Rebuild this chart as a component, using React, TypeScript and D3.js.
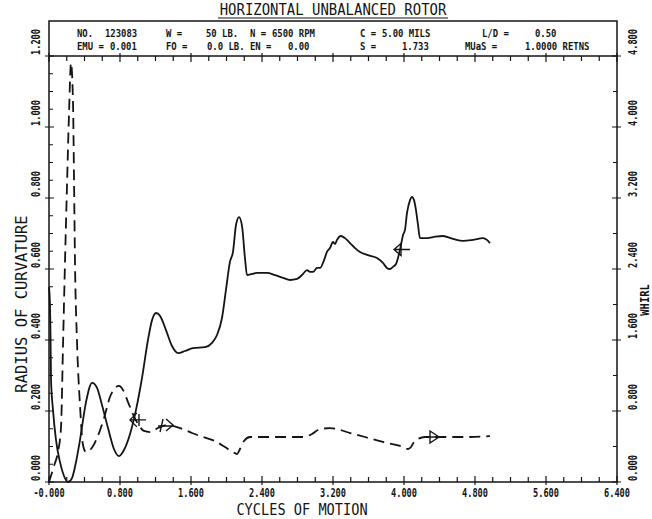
import React from "react";
import * as d3 from "d3";

const W = 652;
const H = 519;

// Radius of curvature (left axis) against cycles of motion
const curvCycles = [
  0.0, 0.011, 0.017, 0.023, 0.045, 0.079, 0.124, 0.169, 0.214, 0.259, 0.304, 0.349,
  0.417, 0.485, 0.541, 0.597, 0.665, 0.732, 0.789, 0.845, 0.913, 0.98, 1.048, 1.115,
  1.161, 1.206, 1.251, 1.318, 1.386, 1.454, 1.532, 1.623, 1.758, 1.837, 1.893, 1.949,
  1.994, 2.039, 2.073, 2.107, 2.141, 2.175, 2.208, 2.231, 2.287, 2.344, 2.456, 2.546,
  2.637, 2.716, 2.794, 2.862, 2.907, 2.941, 2.975, 3.02, 3.054, 3.099, 3.132, 3.166,
  3.2, 3.223, 3.245, 3.29, 3.335, 3.392, 3.448, 3.504, 3.594, 3.696, 3.763, 3.808,
  3.842, 3.876, 3.91, 3.932, 3.966, 3.989, 4.011, 4.034, 4.068, 4.09, 4.113, 4.135,
  4.158, 4.18, 4.248, 4.327, 4.439, 4.552, 4.665, 4.777, 4.89, 4.935, 4.969,
];
const curvRadius = [
  0.549, 0.499, 0.414, 0.287, 0.203, 0.118, 0.056, 0.017, 0.0, 0.011, 0.056, 0.118,
  0.225, 0.279, 0.265, 0.217, 0.152, 0.093, 0.073, 0.09, 0.135, 0.203, 0.293, 0.4,
  0.456, 0.476, 0.468, 0.428, 0.383, 0.363, 0.369, 0.377, 0.38, 0.392, 0.414, 0.462,
  0.541, 0.62, 0.648, 0.724, 0.746, 0.721, 0.631, 0.583, 0.586, 0.589, 0.589, 0.583,
  0.575, 0.569, 0.572, 0.586, 0.597, 0.592, 0.592, 0.603, 0.603, 0.625, 0.648, 0.659,
  0.676, 0.67, 0.682, 0.693, 0.687, 0.673, 0.659, 0.648, 0.639, 0.631, 0.617, 0.603,
  0.6, 0.606, 0.614, 0.631, 0.668, 0.696, 0.71, 0.758, 0.794, 0.803, 0.794, 0.766,
  0.724, 0.687, 0.687, 0.69, 0.693, 0.685, 0.679, 0.682, 0.687, 0.682, 0.673,
];

// Whirl (right axis) against cycles of motion
const whirlCycles = [
  0.0, 0.056, 0.101, 0.135, 0.158, 0.18, 0.203, 0.225, 0.248, 0.27, 0.282, 0.293,
  0.315, 0.349, 0.383, 0.417, 0.473, 0.541, 0.62, 0.687, 0.744, 0.789, 0.834, 0.89,
  0.946, 1.003, 1.07, 1.138, 1.228, 1.33, 1.476, 1.611, 1.735, 1.87, 1.983, 2.073,
  2.118, 2.152, 2.197, 2.265, 2.434, 2.637, 2.862, 2.963, 3.031, 3.166, 3.279, 3.392,
  3.561, 3.763, 3.955, 4.045, 4.079, 4.113, 4.158, 4.237, 4.327, 4.518, 4.744, 4.969,
];
const whirlValues = [
  0.0, 0.18, 0.338, 0.608, 1.544, 2.468, 3.346, 4.135, 4.721, 4.304, 3.403, 2.468,
  1.6, 0.868, 0.417, 0.338, 0.372, 0.496, 0.721, 0.958, 1.059, 1.082, 1.037, 0.901,
  0.766, 0.654, 0.575, 0.563, 0.608, 0.642, 0.608, 0.552, 0.507, 0.462, 0.394, 0.338,
  0.315, 0.372, 0.462, 0.507, 0.507, 0.507, 0.507, 0.541, 0.586, 0.608, 0.586, 0.552,
  0.507, 0.451, 0.406, 0.372, 0.394, 0.451, 0.485, 0.507, 0.507, 0.507, 0.507, 0.518,
];

// Direction arrows along each trace
const curvMarkerCycles = [0.98, 3.955];
const curvMarkerValues = [0.175, 0.655];
const whirlMarkerCycles = [1.33, 4.327];
const whirlMarkerValues = [0.642, 0.507];

const xTickLabels = ["-0.000", "0.800", "1.600", "2.400", "3.200", "4.000", "4.800", "5.600", "6.400"];
const leftTickLabels = ["0.000", "0.200", "0.400", "0.600", "0.800", "1.000", "1.200"];
const rightTickLabels = ["0.000", "0.800", "1.600", "2.400", "3.200", "4.000", "4.800"];

const title = "HORIZONTAL UNBALANCED ROTOR";
const headerRow1 = ["NO.", "123083", "W =", "50 LB.", "N =", "6500 RPM", "C =", "5.00 MILS", "L/D =", "0.50"];
const headerRow2 = ["EMU =", "0.001", "FO =", "0.0 LB.", "EN =", "0.00", "S =", "1.733", "MUaS =", "1.0000 RETNS"];

// layout
const left = 49;
const right = 617;
const top = 56;
const bottom = 482;
const boxTop = 21;
const headerRow1X = [77, 105, 166, 206, 250, 272, 360, 382, 482, 535];
const headerRow2X = [77, 110, 166, 207, 250, 288, 360, 402, 465, 525];

const FONT = "'DejaVu Sans Mono', 'Liberation Mono', monospace";
const INK = "#141414";

type PTextProps = {
  x: number;
  y: number;
  size: number;
  sx?: number;
  rotate?: number;
  anchor?: "start" | "middle" | "end";
  weight?: number | string;
  children: React.ReactNode;
};

function PText({ x, y, size, sx = 0.8, rotate = 0, anchor = "start", weight = "normal", children }: PTextProps) {
  return (
    <text
      transform={`translate(${x},${y}) rotate(${rotate}) scale(${sx},1)`}
      textAnchor={anchor}
      fontSize={size}
      fontFamily={FONT}
      fontWeight={weight}
      fill={INK}
    >
      {children}
    </text>
  );
}

export default function App() {
  const x = d3.scaleLinear().domain([0, 6.4]).range([left, right]);
  const yL = d3.scaleLinear().domain([0, 1.2]).range([bottom, top]);
  const yR = d3.scaleLinear().domain([0, 4.8]).range([bottom, top]);

  const curvPts: [number, number][] = curvCycles.map((c, i) => [c, curvRadius[i]]);
  const whirlPts: [number, number][] = whirlCycles.map((c, i) => [c, whirlValues[i]]);

  const curvLine = d3
    .line<[number, number]>()
    .x((d) => x(d[0]))
    .y((d) => yL(d[1]))
    .curve(d3.curveMonotoneX);
  const whirlLine = d3
    .line<[number, number]>()
    .x((d) => x(d[0]))
    .y((d) => yR(d[1]))
    .curve(d3.curveMonotoneX);

  const xTicks = d3.range(0, 32.5).map((i) => i * 0.2);
  const lTicks = d3.range(0, 24.5).map((i) => i * 0.05);
  const rTicks = d3.range(0, 12.5).map((i) => i * 0.4);

  const tickPaths: string[] = [];
  xTicks.forEach((t, i) => {
    const px = x(t);
    const major = i % 4 === 0;
    tickPaths.push(`M${px},${bottom + (major ? 3 : 0)}V${bottom - (major ? 6 : 5)}`);
    tickPaths.push(`M${px},${top - (major ? 3 : 0)}V${top + (major ? 6 : 5)}`);
  });
  lTicks.forEach((t, i) => {
    const py = yL(t);
    const major = i % 4 === 0;
    tickPaths.push(`M${left - (major ? 4 : 0)},${py}H${left + (major ? 5 : 4)}`);
  });
  rTicks.forEach((t, i) => {
    const py = yR(t);
    const major = i % 2 === 0;
    tickPaths.push(`M${right + (major ? 4 : 0)},${py}H${right - (major ? 5 : 4)}`);
  });

  // left-pointing arrows on the curvature trace
  const curvMarks = curvMarkerCycles.map((c, i) => {
    const mx = x(c);
    const my = yL(curvMarkerValues[i]);
    return i === 0
      ? `M${mx - 6},${my}H${mx + 10}M${mx + 1},${my - 7}L${mx - 6},${my}L${mx + 1},${my + 7}M${mx + 3},${my - 6}V${my + 6}`
      : `M${mx - 6},${my}L${mx + 1},${my - 6}L${mx + 1},${my + 6}Z M${mx - 6},${my}H${mx + 10}`;
  });
  // right-pointing arrows on the whirl trace
  const whirlMarks = whirlMarkerCycles.map((c, i) => {
    const mx = x(c);
    const my = yR(whirlMarkerValues[i]);
    return i === 0
      ? `M${mx - 9},${my + 1}H${mx + 6}M${mx - 1},${my - 6}L${mx + 6},${my}L${mx - 1},${my + 6}M${mx - 4},${my - 6}L${mx - 7},${my + 7}`
      : `M${mx - 3},${my - 6}L${mx + 6},${my}L${mx - 3},${my + 6}Z M${mx - 9},${my}H${mx + 6}`;
  });

  const titleX = 333;

  return (
    <svg
      width={W}
      height={H}
      viewBox={`0 0 ${W} ${H}`}
      style={{ position: "absolute", left: 0, top: 0, background: "#fff" }}
    >
      <rect x={0} y={0} width={W} height={H} fill="#fff" />

      {/* title */}
      <PText x={titleX} y={15} size={15.5} sx={0.9} anchor="middle">
        {title}
      </PText>
      <line x1={218} x2={448} y1={18} y2={18} stroke={INK} strokeWidth={1.2} />

      {/* header box + frame */}
      <rect x={left} y={boxTop} width={right - left} height={bottom - boxTop} fill="none" stroke={INK} strokeWidth={1.5} />
      <line x1={left} x2={right} y1={top} y2={top} stroke={INK} strokeWidth={1.5} />

      {headerRow1.map((t, i) => (
        <PText key={"r1" + i} x={headerRow1X[i]} y={37} size={10.5} sx={0.85} weight="bold">
          {t}
        </PText>
      ))}
      {headerRow2.map((t, i) => (
        <PText key={"r2" + i} x={headerRow2X[i]} y={50} size={10.5} sx={0.85} weight="bold">
          {t}
        </PText>
      ))}

      {/* ticks */}
      <path d={tickPaths.join("")} stroke={INK} strokeWidth={1.2} fill="none" />

      {/* tick labels */}
      {xTickLabels.map((t, i) => (
        <PText key={"x" + i} x={x(i * 0.8)} y={497} size={12} sx={0.72} anchor="middle" weight="bold">
          {t}
        </PText>
      ))}
      {leftTickLabels.map((t, i) => (
        <PText key={"l" + i} x={40} y={yL(i * 0.2) - 1} size={12} sx={0.72} rotate={-90} weight="bold">
          {t}
        </PText>
      ))}
      {rightTickLabels.map((t, i) => (
        <PText key={"r" + i} x={637} y={yR(i * 0.8) - 1} size={12} sx={0.72} rotate={-90} weight="bold">
          {t}
        </PText>
      ))}

      {/* axis titles */}
      <PText x={(left + right) / 2 - 31} y={515} size={15.5} sx={0.88} anchor="middle">
        CYCLES OF MOTION
      </PText>
      <PText x={27} y={304} size={15.5} sx={1.0} rotate={-90} anchor="middle">
        RADIUS OF CURVATURE
      </PText>
      <PText x={649} y={300} size={13} sx={0.8} rotate={-90} anchor="middle" weight="bold">
        WHIRL
      </PText>

      {/* traces */}
      <path d={curvLine(curvPts) || ""} fill="none" stroke={INK} strokeWidth={1.8} strokeLinejoin="round" />
      <path
        d={whirlLine(whirlPts) || ""}
        fill="none"
        stroke={INK}
        strokeWidth={1.8}
        strokeDasharray="11 6"
      />
      {curvMarks.map((d, i) => (
        <path key={"cm" + i} d={d} fill="none" stroke={INK} strokeWidth={1.4} />
      ))}
      {whirlMarks.map((d, i) => (
        <path key={"wm" + i} d={d} fill="none" stroke={INK} strokeWidth={1.4} />
      ))}
    </svg>
  );
}
